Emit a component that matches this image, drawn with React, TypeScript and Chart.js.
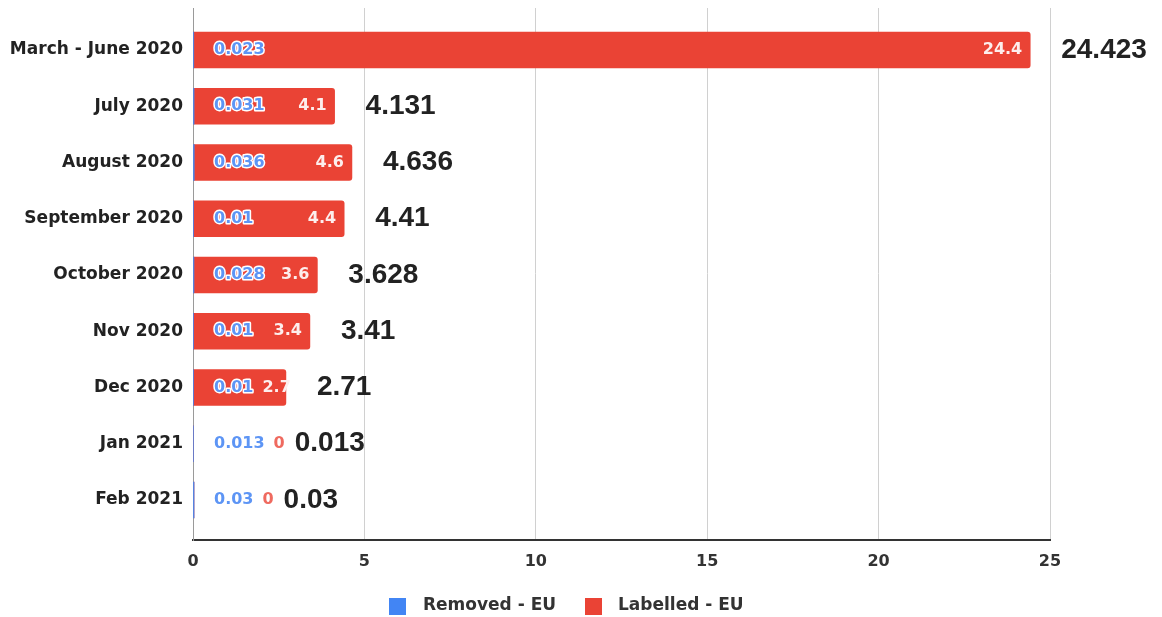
import React, { useEffect, useRef } from "react";
import { Chart, registerables } from "chart.js";

Chart.register(...registerables);

const categories = [
  "March - June 2020",
  "July 2020",
  "August 2020",
  "September 2020",
  "October 2020",
  "Nov 2020",
  "Dec 2020",
  "Jan 2021",
  "Feb 2021",
];
const removedEU = [0.023, 0.031, 0.036, 0.01, 0.028, 0.01, 0.01, 0.013, 0.03];
const labelledEU = [24.4, 4.1, 4.6, 4.4, 3.6, 3.4, 2.7, 0, 0];
const xTicks = [0, 5, 10, 15, 20, 25];
const seriesNames = ["Removed - EU", "Labelled - EU"];

const BLUE = "#4285F4";
const RED = "#EA4335";
const AXIS_FONT = "'DejaVu Sans', sans-serif";
const TOTAL_FONT = "'Liberation Sans', Arial, sans-serif";

const fmt = (v: number) => String(parseFloat(v.toFixed(3)));

const labelPlugin = {
  id: "barLabels",
  afterDatasetsDraw(chart: any) {
    const ctx = chart.ctx as CanvasRenderingContext2D;
    const xs = chart.scales.x;
    const ys = chart.scales.y;
    const x0 = xs.getPixelForValue(0);
    ctx.save();
    ctx.textBaseline = "middle";
    ctx.lineJoin = "round";
    categories.forEach((_, i) => {
      const y = ys.getPixelForValue(i);
      const total = parseFloat((removedEU[i] + labelledEU[i]).toFixed(3));
      const xEnd = xs.getPixelForValue(total);

      ctx.font = `bold 16px ${AXIS_FONT}`;
      const bt = fmt(removedEU[i]);
      const bx = x0 + 21;
      ctx.textAlign = "left";
      ctx.lineWidth = 3;
      ctx.strokeStyle = "#ffffff";
      ctx.strokeText(bt, bx, y);
      ctx.fillStyle = "#5d95f5";
      ctx.fillText(bt, bx, y);
      const bRight = bx + ctx.measureText(bt).width;

      const rt = fmt(labelledEU[i]);
      const rw = ctx.measureText(rt).width;
      const rRight = Math.max(xEnd - 8, bRight + 9 + rw);
      ctx.textAlign = "right";
      ctx.fillStyle = labelledEU[i] > 0 ? "#fdeeed" : "#ef6a5f";
      ctx.fillText(rt, rRight, y);

      ctx.font = `bold 28px ${TOTAL_FONT}`;
      ctx.textAlign = "left";
      ctx.fillStyle = "#222222";
      ctx.fillText(fmt(total), Math.max(xEnd + 31, rRight + 10), y);
    });

    // legend
    const legendColors = [BLUE, RED];
    const boxX = [389, 585];
    const textX = [423, 618];
    ctx.font = `bold 17px ${AXIS_FONT}`;
    ctx.textAlign = "left";
    seriesNames.forEach((name, k) => {
      ctx.fillStyle = legendColors[k];
      ctx.fillRect(boxX[k], 598, 17, 17);
      ctx.fillStyle = "#333333";
      ctx.fillText(name, textX[k], 606);
    });
    ctx.restore();
  },
};

export default function App() {
  const ref = useRef<HTMLCanvasElement | null>(null);

  useEffect(() => {
    document.body.style.margin = "0";
    const canvas = ref.current;
    if (!canvas) return;
    const chart = new Chart(canvas, {
      type: "bar",
      data: {
        datasets: [
          {
            label: seriesNames[0],
            data: removedEU.map((v, i) => ({ x: v, y: i })),
            backgroundColor: BLUE,
            barThickness: 36,
          },
          {
            label: seriesNames[1],
            data: labelledEU.map((v, i) => ({ x: v, y: i })),
            backgroundColor: RED,
            barThickness: 36,
            borderRadius: 3,
          },
        ],
      },
      options: {
        indexAxis: "y",
        responsive: false,
        animation: false,
        devicePixelRatio: 1,
        layout: { padding: { top: 8, right: 112, bottom: 0, left: 0 } },
        plugins: {
          legend: { display: false },
          tooltip: { enabled: false },
        },
        scales: {
          x: {
            type: "linear",
            stacked: true,
            min: xTicks[0],
            max: xTicks[xTicks.length - 1],
            afterBuildTicks: (axis: any) => {
              axis.ticks = xTicks.map((v) => ({ value: v }));
            },
            afterFit: (axis: any) => {
              axis.height = 77;
              axis.paddingLeft = 0;
            },
            grid: { color: "#d0d0d0", lineWidth: 1, drawTicks: false },
            border: { display: true, color: "#333333", width: 2 },
            ticks: {
              padding: 12,
              color: "#333333",
              font: { family: AXIS_FONT, size: 16, weight: "bold" },
            },
          },
          y: {
            type: "linear",
            stacked: true,
            reverse: true,
            offset: false,
            bounds: "data",
            min: -0.7467,
            max: 8.711,
            afterBuildTicks: (axis: any) => {
              axis.ticks = categories.map((_, i) => ({ value: i }));
            },
            afterFit: (axis: any) => {
              axis.width = 193;
              axis.paddingTop = 0;
              axis.paddingBottom = 0;
            },
            grid: { display: false, drawTicks: false, offset: false },
            border: { display: true, color: "#9a9a9a", width: 1 },
            ticks: {
              padding: 10,
              color: "#222222",
              font: { family: AXIS_FONT, size: 17, weight: "bold" },
              callback: (v: any) => categories[v as number] ?? "",
            },
          },
        },
      },
      plugins: [labelPlugin],
    } as any);
    return () => chart.destroy();
  }, []);

  return (
    <canvas
      ref={ref}
      width={1162}
      height={617}
      style={{ display: "block", width: 1162, height: 617 }}
    />
  );
}
